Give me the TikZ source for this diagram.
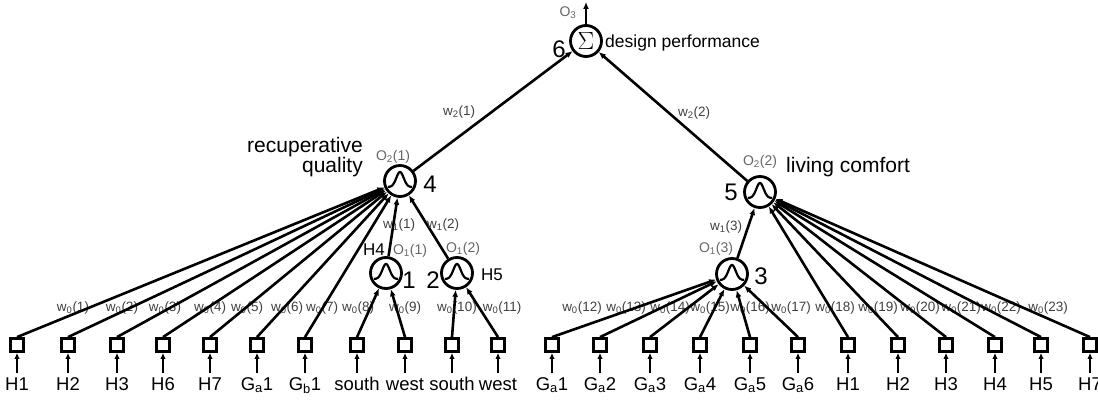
\documentclass[tikz,border=0pt]{standalone}
\usepackage{fontspec}
\setmainfont{Liberation Sans}
\usetikzlibrary{arrows.meta}

\tikzset{
  unit/.style={circle, draw, line width=2.8pt, minimum size=31pt, inner sep=0pt},
  gauss/.style={unit, path picture={
      \draw[line width=2.2pt, shift={(path picture bounding box.center)}]
        plot[domain=-12:12, samples=40, smooth] (\x,{6-15*exp(0-(\x/5.2)*(\x/5.2))});}},
  inbox/.style={draw, line width=2.8pt, minimum size=13pt, inner sep=0pt},
  conn/.style={line width=2.6pt, -{Latex[length=7pt,width=6pt]}},
  feed/.style={line width=2.6pt, -{Latex[length=6pt,width=5.5pt]}},
  inlabel/.style={font=\fontsize{18.5}{18.5}\selectfont, anchor=base, inner sep=0pt},
  wlabel/.style={font=\fontsize{13.5}{13.5}\selectfont, text=black!75, inner sep=0pt},
  olabel/.style={font=\fontsize{14}{14}\selectfont, text=black!60, inner sep=0pt},
  idx/.style={font=\fontsize{24}{24}\selectfont, inner sep=0pt},
  caption/.style={font=\fontsize{21}{21}\selectfont, inner sep=0pt},
}

\begin{document}
\begin{tikzpicture}[x=1pt, y=-1pt]
\useasboundingbox (0,0) rectangle (1098,401);

% processing units
\node[unit] (n6) at (586,41) {\fontsize{23}{23}\selectfont$\Sigma$};
\node[gauss] (n4) at (400,181) {};
\node[gauss] (n5) at (760,192) {};
\node[gauss] (n1) at (386,273) {};
\node[gauss] (n2) at (457,273) {};
\node[gauss] (n3) at (732,274) {};
\coordinate (out) at (586,2);

% input boxes, their feeds and names
\foreach \x/\t [count=\i] in {17/H1, 68/H2, 117/H3, 163/H6, 210/H7,
    257/{G\textsubscript{a}1}, 305/{G\textsubscript{b}1}, 357/south, 405/west,
    452/south, 498/west,
    552/{G\textsubscript{a}1}, 600/{G\textsubscript{a}2}, 650/{G\textsubscript{a}3},
    700/{G\textsubscript{a}4}, 750/{G\textsubscript{a}5}, 798/{G\textsubscript{a}6},
    848/H1, 898/H2, 946/H3, 995/H4, 1041/H5, 1090/H7} {
  \node[inbox] (b\i) at (\x,345) {};
  \coordinate (s\i) at (\x,373);
  \draw[feed] (s\i) -- (b\i.south);
  \node[inlabel] (l\i) at (\x,390) {\t};
}

% weights on the first layer
\foreach \x [count=\i] in {73,122,165,210,247,287,322,358,405,457,502,
    582,626,670,710,750,791,835,878,920,961,1001,1048} {
  \node[wlabel] (w\i) at (\x,308) {w\textsubscript{0}(\i)};
}

% connections
\foreach \i in {1,...,7} \draw[conn] (b\i.north) -- (n4);
\foreach \i in {8,9} \draw[conn] (b\i.north) -- (n1);
\foreach \i in {10,11} \draw[conn] (b\i.north) -- (n2);
\foreach \i in {12,...,17} \draw[conn] (b\i.north) -- (n3);
\foreach \i in {18,...,23} \draw[conn] (b\i.north) -- (n5);
\draw[conn] (n1) -- (n4);
\draw[conn] (n2) -- (n4);
\draw[conn] (n3) -- (n5);
\draw[conn] (n4) -- (n6);
\draw[conn] (n5) -- (n6);
\draw[conn] (n6) -- (out);

% weights of the upper layers
\node[wlabel] (v1) at (399,225) {w\textsubscript{1}(1)};
\node[wlabel] (v2) at (443,225) {w\textsubscript{1}(2)};
\node[wlabel] (v3) at (726,227) {w\textsubscript{1}(3)};
\node[wlabel] (u1) at (459,112) {w\textsubscript{2}(1)};
\node[wlabel] (u2) at (694,113) {w\textsubscript{2}(2)};

% outputs
\node[olabel] (o11) at (410,251) {O\textsubscript{1}(1)};
\node[olabel] (o12) at (463,249) {O\textsubscript{1}(2)};
\node[olabel] (o13) at (716,249) {O\textsubscript{1}(3)};
\node[olabel] (o21) at (393,157) {O\textsubscript{2}(1)};
\node[olabel] (o22) at (760,162) {O\textsubscript{2}(2)};
\node[olabel] (o3) at (568,13) {O\textsubscript{3}};

% unit numbers
\node[idx] (k1) at (409,280) {1};
\node[idx] (k2) at (433,280) {2};
\node[idx] (k3) at (761,276) {3};
\node[idx] (k4) at (430,184) {4};
\node[idx] (k5) at (731,192) {5};
\node[idx] (k6) at (559,49) {6};
\node[font=\fontsize{17}{17}\selectfont, inner sep=0pt] (h4) at (374,250) {H4};
\node[font=\fontsize{17}{17}\selectfont, inner sep=0pt] (h5) at (492,275) {H5};

% criteria names
\node[caption, anchor=base east] (c1) at (363,153) {recuperative};
\node[caption, anchor=base east] (c2) at (363,173) {quality};
\node[caption, anchor=base west] (c3) at (786,173) {living comfort};
\node[font=\fontsize{17.5}{17.5}\selectfont, inner sep=0pt, anchor=base west] (c4) at (605,48) {design performance};
\end{tikzpicture}
\end{document}
